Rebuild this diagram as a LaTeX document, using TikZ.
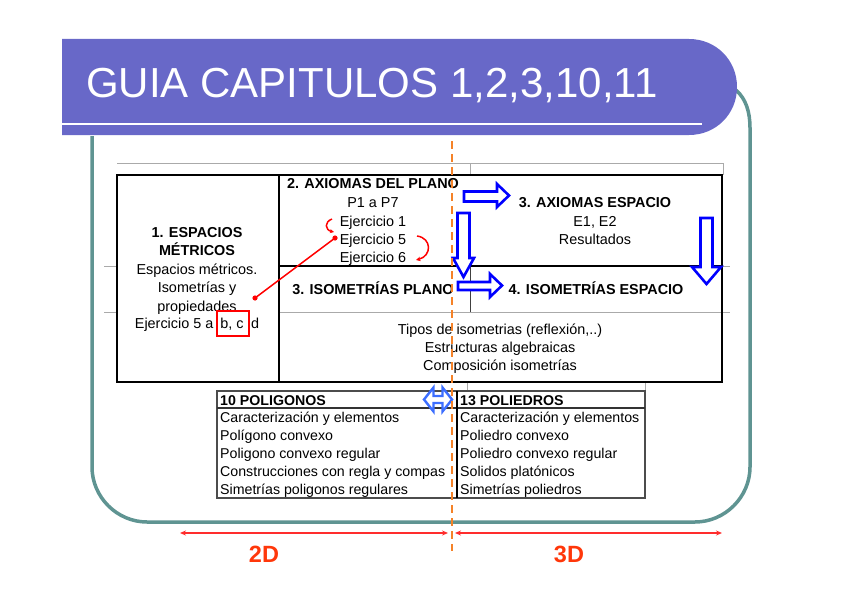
\documentclass[tikz,border=0pt]{standalone}
\usepackage{fontspec}
\setmainfont{Liberation Sans}
\usetikzlibrary{arrows.meta}
\definecolor{banner}{RGB}{104,104,200}
\definecolor{framec}{RGB}{95,148,146}
\definecolor{dashor}{RGB}{245,130,40}
\definecolor{arrblue}{RGB}{0,0,255}
\definecolor{arrblue2}{RGB}{60,110,255}
\definecolor{dimred}{RGB}{255,45,45}
\definecolor{lblred}{RGB}{255,55,10}
\definecolor{gridg}{RGB}{170,170,170}
\tikzset{
  tx/.style={inner sep=0pt, anchor=base, font=\fontsize{14.4}{18}\selectfont},
  txb/.style={inner sep=0pt, anchor=base, font=\fontsize{14.4}{18}\selectfont\bfseries},
  txl/.style={inner sep=0pt, anchor=base west, font=\fontsize{14.2}{18}\selectfont},
  txlb/.style={inner sep=0pt, anchor=base west, font=\fontsize{14.2}{18}\selectfont\bfseries},
  blockarrow/.style={draw=arrblue, line width=2.6pt, fill=white, line join=miter},
  gridline/.style={draw=gridg, line width=0.8pt},
  tabline/.style={draw=black, line width=1.5pt},
  redlink/.style={draw=red, line width=1.5pt},
  dimarrow/.style={draw=dimred, line width=1.4pt, {Stealth[length=6pt,width=5pt]}-{Stealth[length=6pt,width=5pt]}},
}
\begin{document}
\begin{tikzpicture}[x=1pt,y=-1pt]
\useasboundingbox (0,0) rectangle (848,599);
% frame
\draw[framec, line width=3.5pt] (92,136) -- (92,467) .. controls (92,497) and (117,522) .. (147,522)
  -- (695,522) .. controls (725,522) and (750,497) .. (750,467) -- (750,128)
  .. controls (750,112) and (746,99) .. (736,90);
% banner
\fill[banner] (62,39) -- (689,39) .. controls (716,39) and (737,60) .. (737,87)
  .. controls (737,114) and (716,135) .. (689,135) -- (62,135) -- cycle;
\draw[white, line width=2.6pt] (62,124) -- (702,124);
\node[anchor=base west, inner sep=0pt, text=white, font=\fontsize{42}{50}\selectfont] (title) at (86,98) {GUIA CAPITULOS 1,2,3,10,11};
% spreadsheet grid lines
\draw[gridline] (117,163) -- (723,163);
\draw[gridline] (470,163) -- (470,175);
\draw[gridline] (723,163) -- (723,175);
\draw[gridline] (104,266) -- (117,266);
\draw[gridline] (104,312) -- (117,312);
\draw[gridline] (722,266) -- (730,266);
\draw[gridline] (279,312) -- (730,312);
\draw[gridline] (645,382) -- (645,391);
\draw[gridline] (467,382) -- (467,391);
% upper table
\draw[black, line width=2pt] (116,175) -- (723,175);
\draw[black, line width=2pt] (116,382) -- (723,382);
\draw[tabline] (117,175) -- (117,382);
\draw[tabline] (279,175) -- (279,382);
\draw[tabline] (722,175) -- (722,382);
\draw[tabline] (279,266) -- (722,266);
\draw[draw=black!75, line width=1pt] (470,266) -- (470,312);
% left column
\node[txb] (c1a) at (197,237) {1. ESPACIOS};
\node[txb] (c1b) at (197,255) {MÉTRICOS};
\node[tx] (c1c) at (197,274) {Espacios métricos.};
\node[tx] (c1d) at (197,292) {Isometrías y};
\node[tx] (c1e) at (197,311) {propiedades};
\node[tx] (c1f) at (197,328) {Ejercicio 5 a\hspace{3pt} b, c\hspace{3.5pt} d};
\draw[red, line width=2pt] (217,311) rectangle (249,336);
% row A left
\node[txb] (c2a) at (373,188) {2. AXIOMAS DEL PLANO};
\node[tx] (c2b) at (373,207) {P1 a P7};
\node[tx] (c2c) at (373,226) {Ejercicio 1};
\node[tx] (c2d) at (373,244) {Ejercicio 5};
\node[tx] (c2e) at (373,262) {Ejercicio 6};
% row A right
\node[txb] (c3a) at (595,207) {3. AXIOMAS ESPACIO};
\node[tx] (c3b) at (595,226) {E1, E2};
\node[tx] (c3c) at (595,244) {Resultados};
% row B
\node[txb] (c4) at (373,294) {3. ISOMETRÍAS PLANO};
\node[txb] (c5) at (596,294) {4. ISOMETRÍAS ESPACIO};
% row C
\node[tx] (c6a) at (500,334) {Tipos de isometrias (reflexión,..)};
\node[tx] (c6b) at (500,352) {Estructuras algebraicas};
\node[tx] (c6c) at (500,370) {Composición isometrías};
% red links
\coordinate (dA) at (255,298);
\coordinate (dB) at (335,238);
\draw[redlink] (dA) -- (dB);
\fill[red] (dA) circle (2.6);
\fill[red] (dB) circle (2.6);
\coordinate (e1s) at (332,219);
\coordinate (e1t) at (334,232);
\draw[redlink, -{Stealth[length=4pt,width=4pt]}] (e1s) .. controls (324,222) and (325,230) .. (e1t);
\coordinate (e5s) at (417,236);
\coordinate (e6t) at (416,260);
\draw[redlink, -{Stealth[length=4.5pt,width=4.5pt]}] (e5s) .. controls (432,238) and (432,256) .. (e6t);
% blue block arrows
\draw[blockarrow] (464,191.5) -- (497,191.5) -- (497,184) -- (509,195.5) -- (497,207) -- (497,201.5) -- (464,201.5) -- cycle;
\draw[blockarrow] (457.5,213) -- (469.5,213) -- (469.5,258) -- (474,258) -- (463.5,277) -- (453,258) -- (457.5,258) -- cycle;
\draw[blockarrow] (458,282) -- (490,282) -- (490,274) -- (502,285.5) -- (490,297) -- (490,290) -- (458,290) -- cycle;
\draw[blockarrow] (700.5,218) -- (712.5,218) -- (712.5,267) -- (721,267) -- (706.5,284) -- (692,267) -- (700.5,267) -- cycle;
% lower table
\draw[draw=black!70, line width=1.2pt] (217,391) rectangle (645,498);
\draw[draw=black!80, line width=1.2pt] (217,408) -- (645,408);
\draw[black, line width=2pt] (457,391) -- (457,498);
\node[txlb] (p0) at (220,405) {10 POLIGONOS};
\node[txl] (p1) at (220,422) {Caracterización y elementos};
\node[txl] (p2) at (220,440) {Polígono convexo};
\node[txl] (p3) at (220,458) {Poligono convexo regular};
\node[txl] (p4) at (220,476) {Construcciones con regla y compas};
\node[txl] (p5) at (220,494) {Simetrías poligonos regulares};
\node[txlb] (q0) at (460,405) {13 POLIEDROS};
\node[txl] (q1) at (460,422) {Caracterización y elementos};
\node[txl] (q2) at (460,440) {Poliedro convexo};
\node[txl] (q3) at (460,458) {Poliedro convexo regular};
\node[txl] (q4) at (460,476) {Solidos platónicos};
\node[txl] (q5) at (460,494) {Simetrías poliedros};
% double arrow
\draw[draw=arrblue2, line width=2.4pt, fill=white, line join=miter]
  (424,399.5) -- (433.5,387.5) -- (433.5,396) -- (442.5,396) -- (442.5,387.5) -- (452,399.5)
  -- (442.5,411.5) -- (442.5,403) -- (433.5,403) -- (433.5,411.5) -- cycle;
% orange dashed divider
\draw[dashor, line width=2.6pt, dash pattern=on 8pt off 5pt] (452,141) -- (452,551);
% dimension arrows
\coordinate (d2l) at (180,533);
\coordinate (d2r) at (448,533);
\coordinate (d3l) at (455,533);
\coordinate (d3r) at (722,533);
\draw[dimarrow] (d2l) -- (d2r);
\draw[dimarrow] (d3l) -- (d3r);
\node[inner sep=0pt, anchor=base, text=lblred, font=\fontsize{23.5}{26}\selectfont\bfseries] (l2d) at (264,562) {2D};
\node[inner sep=0pt, anchor=base, text=lblred, font=\fontsize{23.5}{26}\selectfont\bfseries] (l3d) at (569,562) {3D};
\end{tikzpicture}
\end{document}
